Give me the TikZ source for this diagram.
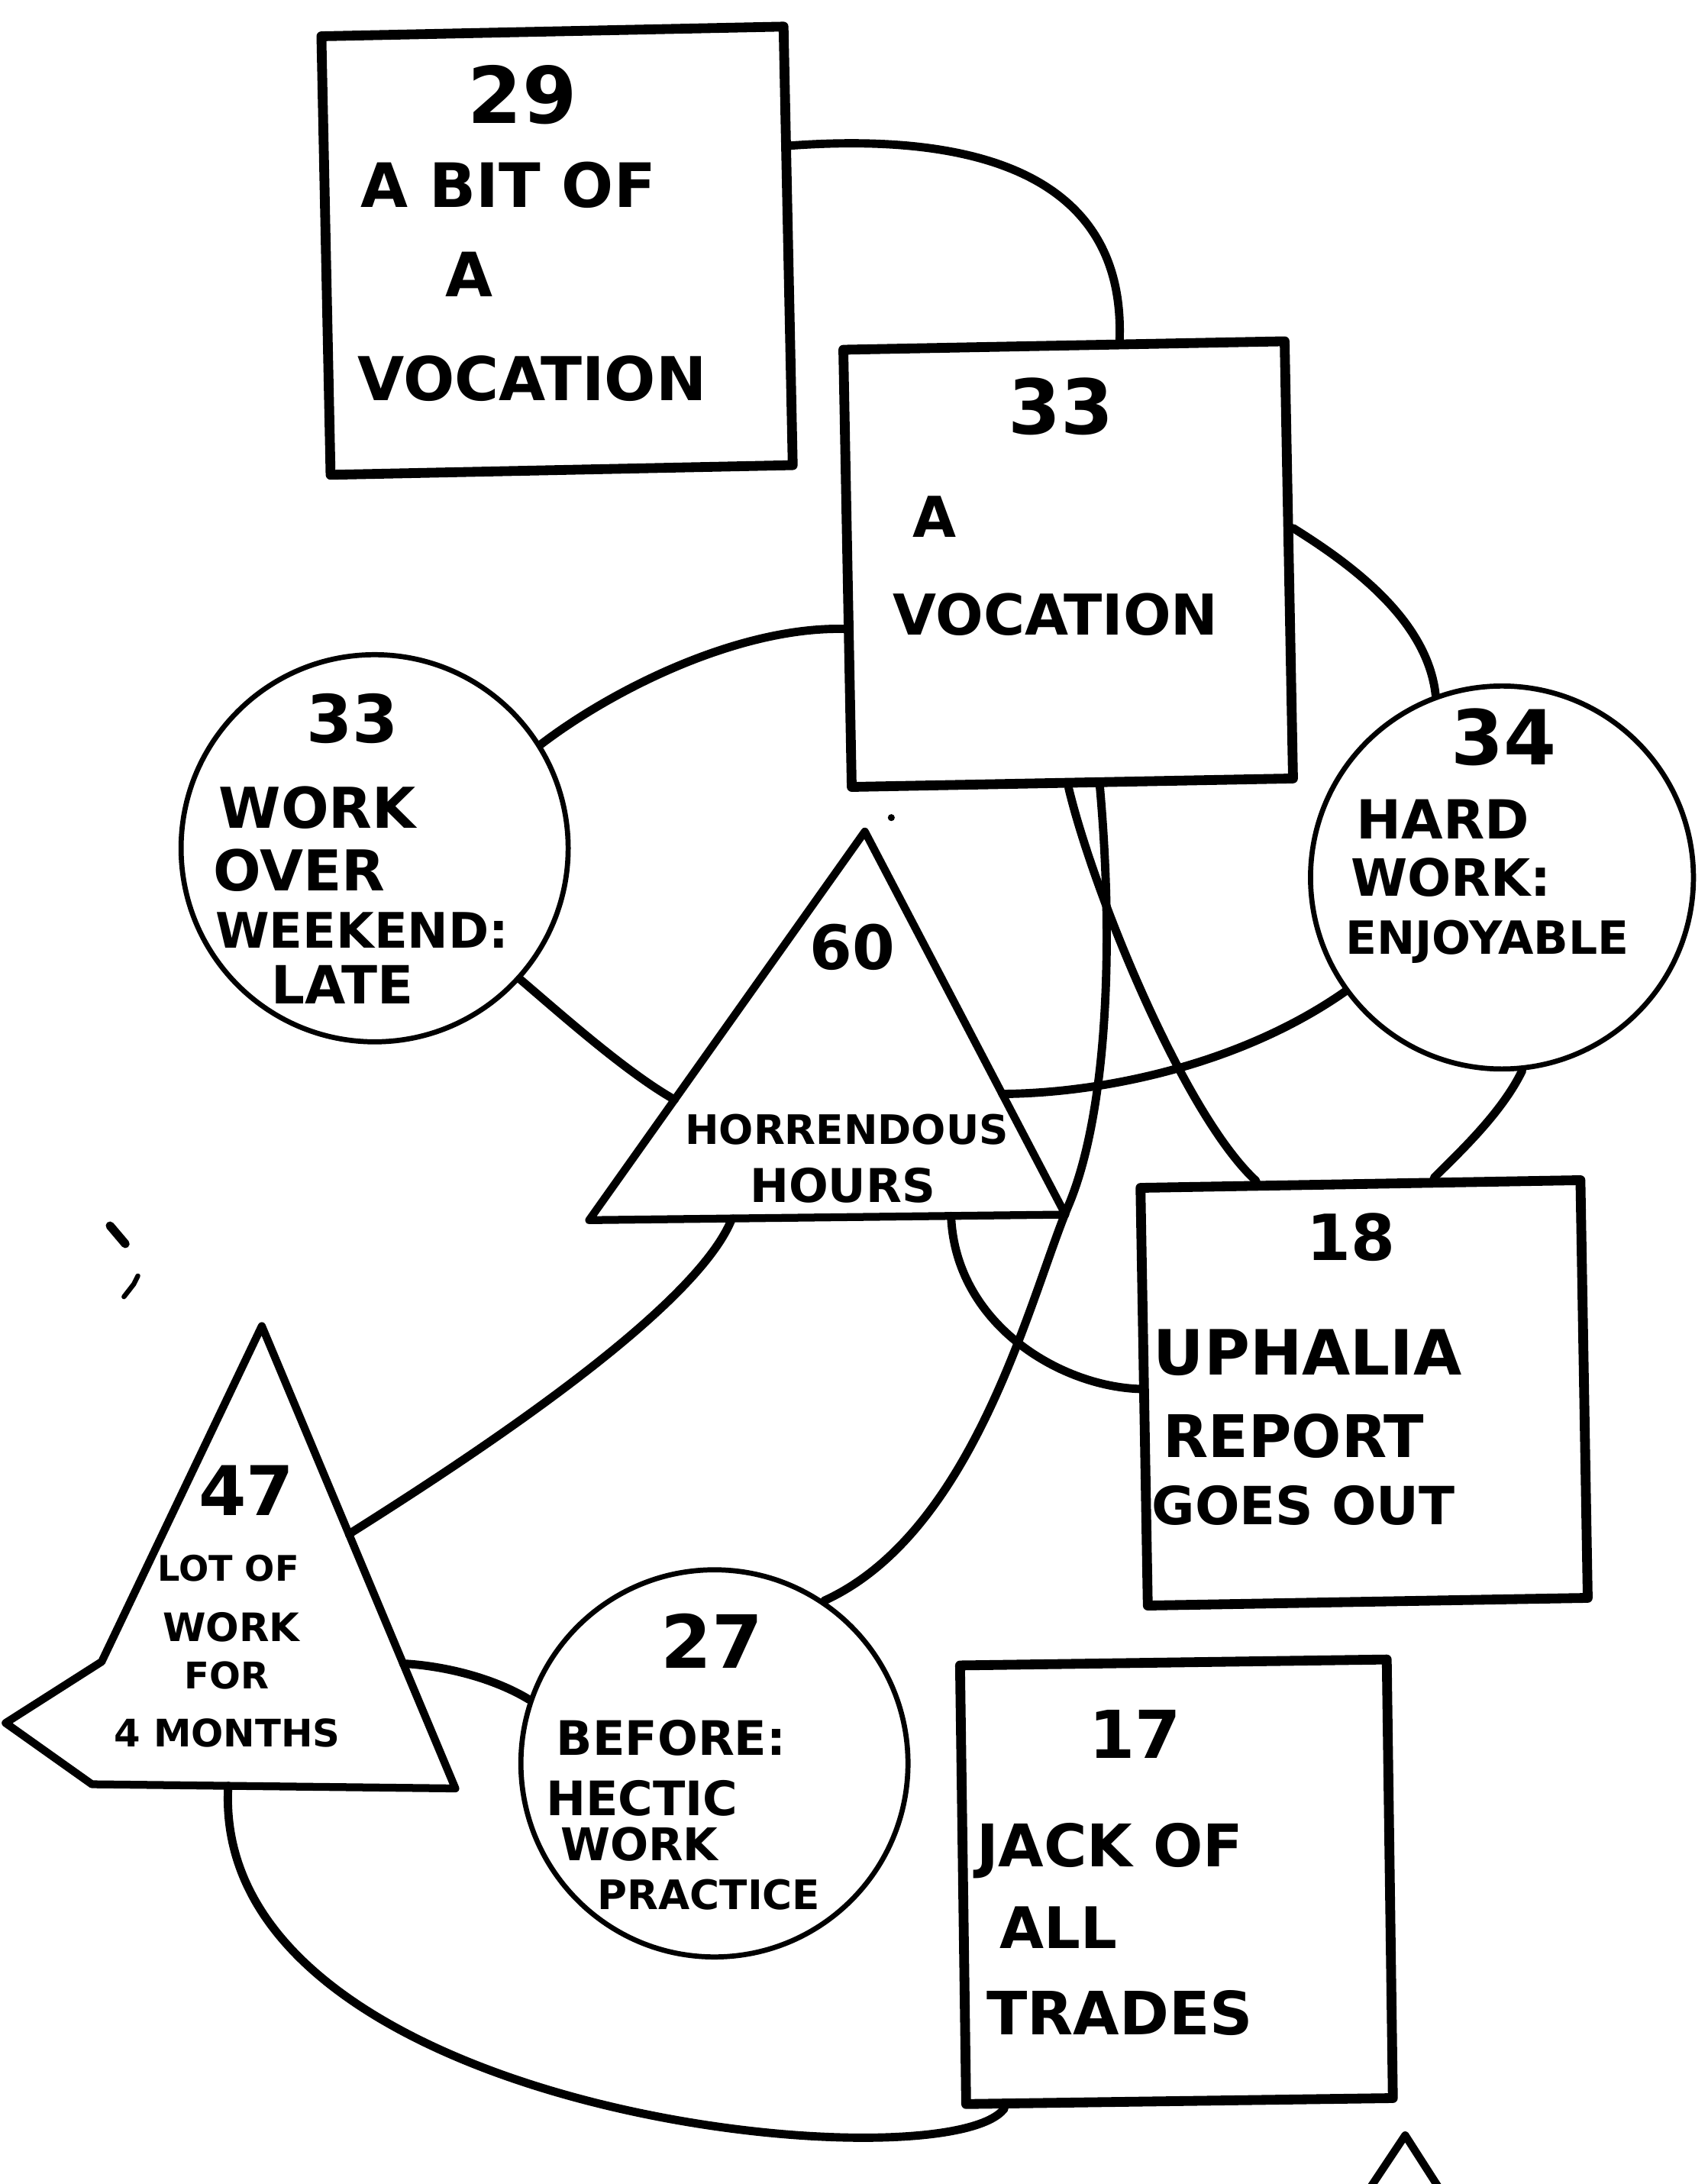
\documentclass[tikz,border=0pt]{standalone}
\usepackage{fontspec}
\setmainfont{DejaVu Sans}
\usetikzlibrary{calc}
\begin{document}
\begin{tikzpicture}[x=0.02cm,y=-0.02cm,line join=round,line cap=round,
  box/.style={draw,line width=4pt,rectangle,inner sep=0pt},
  ring/.style={draw,line width=2.1pt,circle,inner sep=0pt},
  tri/.style={draw,line width=3.2pt},
  link/.style={draw,line width=3.4pt},
  txt/.style={inner sep=0pt,font=\bfseries\fontsize{#1}{#1}\selectfont}]
\fill[white] (0,0) rectangle (1226,1568);
\useasboundingbox (0,0) rectangle (1226,1568);

% boxes
\node[box,minimum width=6.64cm,minimum height=6.30cm,rotate=1.2] (b29) at (400,180) {};
\node[box,minimum width=6.34cm,minimum height=6.28cm,rotate=1.1] (b33) at (767,405) {};
\node[box,minimum width=6.32cm,minimum height=6.00cm,rotate=1.0] (b18) at (979.5,1000) {};
\node[box,minimum width=6.13cm,minimum height=6.30cm,rotate=0.8] (b17) at (844.75,1351) {};
% circles
\node[ring,minimum size=5.56cm] (c33) at (269,609) {};
\node[ring,minimum size=5.50cm] (c34) at (1078.5,630) {};
\node[ring,minimum size=5.56cm] (c27) at (513,1266) {};
% triangles
\coordinate (A60) at (621,597);
\coordinate (L60) at (423,876);
\coordinate (R60) at (765,872);
\draw[tri] (A60) -- (L60) -- (R60) -- cycle;
\coordinate (A47) at (188,952);
\coordinate (K47) at (73,1193);
\coordinate (S47) at (4,1237);
\coordinate (L47) at (66,1281);
\coordinate (R47) at (327,1284);
\draw[tri] (A47) -- (K47) -- (S47) -- (L47) -- (R47) -- cycle;
% partial triangle at the bottom edge
\coordinate (A99) at (1009,1533);
\draw[tri] (983,1572) -- (A99) -- (1034,1572);

% connector end points on triangles
\coordinate (P60l) at ($(A60)!0.69!(L60)$);
\coordinate (P60r) at ($(A60)!0.685!(R60)$);
\coordinate (P60b1) at ($(L60)!0.30!(R60)$);
\coordinate (P60b2) at ($(L60)!0.76!(R60)$);
\coordinate (P47r) at ($(A47)!0.45!(R47)$);
\coordinate (P47r2) at ($(A47)!0.73!(R47)$);
\coordinate (P47b) at ($(L47)!0.375!(R47)$);
\coordinate (bend1) at (767,866);

% connectors
\draw[link] (b29.23) .. controls (700,95) and (808,125) .. (b33.76);
\draw[link] (c33.32) .. controls (440,495) and (530,450) .. (b33.195);
\draw[link] (c33.-42) .. controls (405,730) and (450,770) .. (P60l);
\draw[link] (P60r) .. controls (790,785) and (890,765) .. (c34.-144);
\draw[link] (b33.-91) .. controls (785,640) and (850,800) .. (b18.116);
\draw[link] (b33.-83) .. controls (800,680) and (795,800) .. (bend1)
   .. controls (740,930) and (700,1100) .. (c27.56);
\draw[link] (b33.8) .. controls (970,405) and (1025,445) .. (c34.110);
\draw[link] (c34.-84) .. controls (1078,800) and (1045,830) .. (b18.71);
\draw[link] (P60b2) .. controls (686,950) and (760,995) .. (b18.178);
\draw[link] (P60b1) .. controls (500,940) and (340,1045) .. (P47r);
\draw[link] (P47r2) .. controls (320,1196) and (355,1205) .. (c27.161);
\draw[link] (P47b) .. controls (150,1520) and (680,1570) .. (b17.-128);

% stray marks
\draw[line width=3.5pt] (79,880) -- (90,893);
\draw[line width=2pt] (89,931) -- (96,922) -- (99,916);
\fill (640,587) circle (2.5);

% texts
\node[txt=32] (n29) at (375,68) {29};
\node[txt=25] (l29a) at (365,133) {A BIT OF};
\node[txt=25] (l29b) at (337,197) {A};
\node[txt=24.7] (l29c) at (382,272) {VOCATION};

\node[txt=31] (n33) at (762,292) {33};
\node[txt=23] (l33a) at (671,371) {A};
\node[txt=23] (l33b) at (758,441) {VOCATION};

\node[txt=27] (n33w) at (253,516) {33};
\node[txt=23] (l33w1) at (228,580) {WORK};
\node[txt=23] (l33w2) at (215,625) {OVER};
\node[txt=20] (l33w3) at (260,668) {WEEKEND:};
\node[txt=21.5] (l33w4) at (246,707) {LATE};

\node[txt=25] (n60) at (612,680) {60};
\node[txt=16.6] (l60a) at (608,811) {HORRENDOUS};
\node[txt=19] (l60b) at (605,851) {HOURS};

\node[txt=31] (n34) at (1080,529) {34};
\node[txt=22] (l34a) at (1036,588) {HARD};
\node[txt=21] (l34b) at (1042,630) {WORK:};
\node[txt=18.7] (l34c) at (1068,676) {ENJOYABLE};

\node[txt=26] (n18) at (970,888) {18};
\node[txt=25.5] (l18a) at (939,971) {UPHALIA};
\node[txt=24] (l18b) at (929,1031) {REPORT};
\node[txt=21.5] (l18c) at (936,1081) {GOES OUT};

\node[txt=28] (n47) at (177,1070) {47};
\node[txt=14.4] (l47a) at (164,1126) {LOT OF};
\node[txt=16] (l47b) at (166,1168) {WORK};
\node[txt=15] (l47c) at (163,1203) {FOR};
\node[txt=15.5] (l47d) at (163,1244) {4 MONTHS};

\node[txt=30] (n27) at (511,1178) {27};
\node[txt=19.4] (l27a) at (482,1248) {BEFORE:};
\node[txt=19.4] (l27b) at (461,1291) {HECTIC};
\node[txt=18.4] (l27c) at (459,1324) {WORK};
\node[txt=16.6] (l27d) at (509,1360) {PRACTICE};

\node[txt=27] (n17) at (815,1245) {17};
\node[txt=24] (l17a) at (797,1329) {JACK OF};
\node[txt=23.4] (l17b) at (760,1384) {ALL};
\node[txt=24.4] (l17c) at (804,1445) {TRADES};
\end{tikzpicture}
\end{document}
